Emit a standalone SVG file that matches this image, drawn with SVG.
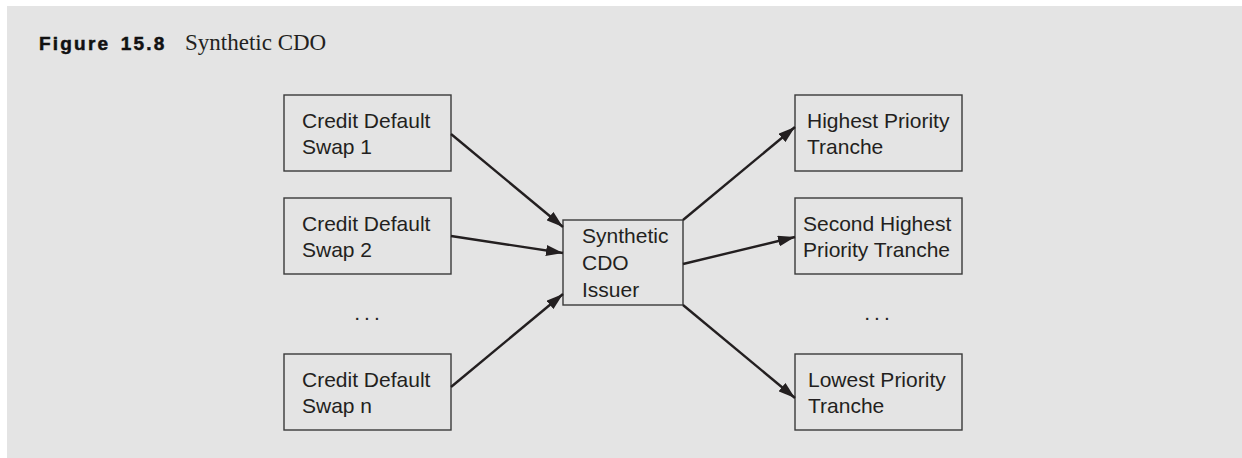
<svg xmlns="http://www.w3.org/2000/svg" width="1242" height="458" viewBox="0 0 1242 458">
<style>
.box{fill:none;stroke:#3a3a3a;stroke-width:1.4}
.t{font-family:"Liberation Sans",Arial,sans-serif;font-size:21px;fill:#231f20}
.c{stroke:#231f20;stroke-width:2.4;fill:none;marker-end:url(#ah)}
</style>
<defs>
<marker id="ah" viewBox="0 0 17 11" refX="17" refY="5.5" markerWidth="17" markerHeight="11" markerUnits="userSpaceOnUse" orient="auto">
<path d="M0,0 L17,5.5 L0,11 Z" fill="#231f20"/>
</marker>
</defs>
<rect x="0" y="0" width="1242" height="458" fill="#ffffff"/>
<rect x="7" y="6" width="1235" height="452" fill="#e4e4e4"/>
<g id="title">
<text x="39" y="50" font-family="Liberation Sans,Arial,sans-serif" font-weight="bold" font-size="19" letter-spacing="2.2" word-spacing="3" fill="#111" stroke="#111" stroke-width="0.5">Figure 15.8</text>
<text x="185" y="50" font-family="Liberation Serif,Times New Roman,serif" font-size="23" fill="#231f20">Synthetic CDO</text>
</g>
<g id="cds1"><rect class="box" x="284" y="95" width="167" height="76"/><text class="t" x="302" y="128">Credit Default</text><text class="t" x="302" y="154">Swap 1</text></g>
<g id="cds2"><rect class="box" x="284" y="198" width="167" height="76"/><text class="t" x="302" y="231">Credit Default</text><text class="t" x="302" y="257">Swap 2</text></g>
<g id="cdsdots"><text class="t" x="369" y="320" text-anchor="middle" letter-spacing="4">...</text></g>
<g id="cdsn"><rect class="box" x="284" y="354" width="167" height="76"/><text class="t" x="302" y="387">Credit Default</text><text class="t" x="302" y="413">Swap n</text></g>
<g id="issuer"><rect class="box" x="563" y="220" width="120" height="85"/><text class="t" x="582" y="243">Synthetic</text><text class="t" x="582" y="270">CDO</text><text class="t" x="582" y="297">Issuer</text></g>
<g id="highest"><rect class="box" x="795" y="95" width="167" height="76"/><text class="t" x="807" y="128">Highest Priority</text><text class="t" x="807" y="154">Tranche</text></g>
<g id="second"><rect class="box" x="795" y="198" width="167" height="76"/><text class="t" x="803" y="231">Second Highest</text><text class="t" x="803" y="257">Priority Tranche</text></g>
<g id="trdots"><text class="t" x="879" y="320" text-anchor="middle" letter-spacing="4">...</text></g>
<g id="lowest"><rect class="box" x="795" y="354" width="167" height="76"/><text class="t" x="808" y="387">Lowest Priority</text><text class="t" x="808" y="413">Tranche</text></g>
<g id="connectors">
<line class="c" x1="451" y1="134" x2="563" y2="227"/>
<line class="c" x1="451" y1="236" x2="563" y2="253"/>
<line class="c" x1="451" y1="387" x2="563" y2="294"/>
<line class="c" x1="683" y1="220" x2="795" y2="127"/>
<line class="c" x1="683" y1="264" x2="795" y2="237"/>
<line class="c" x1="683" y1="305" x2="795" y2="398"/>
</g>
</svg>
